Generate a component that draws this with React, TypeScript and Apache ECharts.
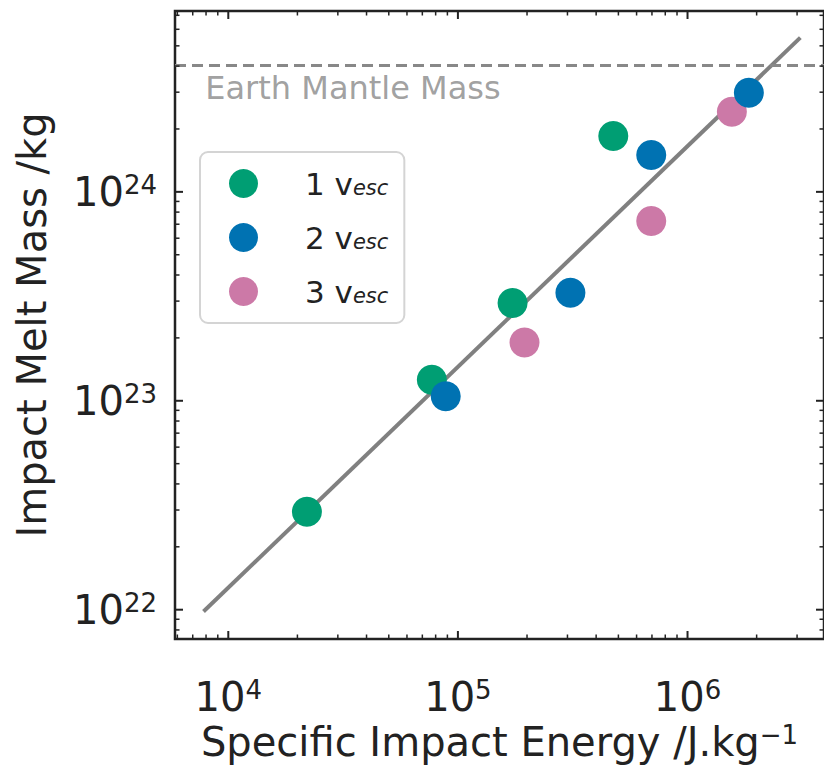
import React, { useEffect, useRef } from "react";
import * as echarts from "echarts";

// ---- data ----
const velocityLabels = ["1", "2", "3"]; // multiples of escape velocity
const seriesColors = ["#009E73", "#0072B2", "#CC79A7"];
const points1vesc: [number, number][] = [
  [2.2e4, 2.94e22],
  [7.7e4, 1.26e23],
  [1.73e5, 2.94e23],
  [4.75e5, 1.85e24],
];
const points2vesc: [number, number][] = [
  [8.85e4, 1.05e23],
  [3.09e5, 3.29e23],
  [6.95e5, 1.5e24],
  [1.85e6, 2.98e24],
];
const points3vesc: [number, number][] = [
  [1.95e5, 1.9e23],
  [6.95e5, 7.26e23],
  [1.56e6, 2.42e24],
];
const fitLine: [number, number][] = [
  [7.8e3, 9.8e21],
  [3.1e6, 5.47e24],
];
const earthMantleMass = 4.05e24;
const annotationPoint: [number, number] = [7.9e3, 3.15e24];
const annotationText = "Earth Mantle Mass";
const xRange = [5860, 3.93e6];
const yRange = [7.24e21, 7.34e24];
const xMajorTicks = [1e4, 1e5, 1e6];
const xMinorTicks = [
  6e3, 7e3, 8e3, 9e3,
  2e4, 3e4, 4e4, 5e4, 6e4, 7e4, 8e4, 9e4,
  2e5, 3e5, 4e5, 5e5, 6e5, 7e5, 8e5, 9e5,
  2e6, 3e6,
];
const yMajorTicks = [1e22, 1e23, 1e24];
const yMinorTicks = [
  8e21, 9e21,
  2e22, 3e22, 4e22, 5e22, 6e22, 7e22, 8e22, 9e22,
  2e23, 3e23, 4e23, 5e23, 6e23, 7e23, 8e23, 9e23,
  2e24, 3e24, 4e24, 5e24, 6e24, 7e24,
];
const xAxisTitle = "Specific Impact Energy /J.kg";
const xAxisTitleSup = "\u22121";
const yAxisTitle = "Impact Melt Mass /kg";

const FONT = "DejaVu Sans";
const INK = "#222222";

const powLabel = (v: number) => {
  const e = Math.log10(v);
  const r = Math.round(e);
  return Math.abs(e - r) < 1e-6 ? `{b|10}{s|${r}}` : "";
};

const supRich = {
  b: { fontSize: 40, lineHeight: 40, fontFamily: FONT, color: INK },
  s: { fontSize: 26, lineHeight: 21, verticalAlign: "top", fontFamily: FONT, color: INK },
};

export default function App() {
  const ref = useRef<HTMLDivElement>(null);

  useEffect(() => {
    if (!ref.current) return;
    const chart = echarts.init(ref.current, undefined, { renderer: "svg" });

    const names = velocityLabels.map((m) => `${m} v_esc`);

    const xTickData = [
      ...xMajorTicks.map((v) => [v, yRange[0], 1]),
      ...xMinorTicks.map((v) => [v, yRange[0], 0]),
    ];
    const yTickData = [
      ...yMajorTicks.map((v) => [xRange[0], v, 1]),
      ...yMinorTicks.map((v) => [xRange[0], v, 0]),
    ];

    const tickStyle = (major: boolean) => ({
      stroke: INK,
      lineWidth: major ? 2 : 1.5,
    });

    const option: any = {
      animation: false,
      backgroundColor: "#ffffff",
      grid: {
        left: 175,
        top: 11,
        right: -1,
        bottom: 130,
        show: true,
        borderColor: INK,
        borderWidth: 2.5,
        backgroundColor: "transparent",
      },
      xAxis: {
        type: "log",
        logBase: 10,
        min: xRange[0],
        max: xRange[1],
        axisLine: { show: false },
        axisTick: { show: false },
        splitLine: { show: false },
        minorTick: { show: false },
        axisLabel: {
          margin: 38,
          showMinLabel: false,
          showMaxLabel: false,
          formatter: powLabel,
          rich: supRich,
        },
        name: `{a|${xAxisTitle}}{s|${xAxisTitleSup}}`,
        nameLocation: "middle",
        nameGap: 78,
        nameTextStyle: {
          rich: {
            a: { fontSize: 40, lineHeight: 40, fontFamily: FONT, color: INK },
            s: { fontSize: 26, lineHeight: 21, verticalAlign: "top", fontFamily: FONT, color: INK },
          },
        },
      },
      yAxis: {
        type: "log",
        logBase: 10,
        min: yRange[0],
        max: yRange[1],
        axisLine: { show: false },
        axisTick: { show: false },
        splitLine: { show: false },
        minorTick: { show: false },
        axisLabel: {
          margin: 18,
          showMinLabel: false,
          showMaxLabel: false,
          formatter: powLabel,
          rich: supRich,
        },
        name: yAxisTitle,
        nameLocation: "middle",
        nameRotate: 90,
        nameGap: 123,
        nameTextStyle: { fontSize: 40, fontFamily: FONT, color: INK },
      },
      legend: {
        data: names,
        orient: "vertical",
        left: 200,
        top: 152,
        padding: [16, 16, 16, 29],
        itemWidth: 29,
        itemHeight: 29,
        itemGap: 23,
        selectedMode: false,
        backgroundColor: "#ffffff",
        borderColor: "#d4d4d4",
        borderWidth: 2,
        borderRadius: 8,
        icon: "circle",
        formatter: (name: string) => `{gap| }{n|${name.split(" ")[0]} v}{sub|esc}`,
        textStyle: {
          rich: {
            gap: { width: 42, fontSize: 31, lineHeight: 29, fontFamily: FONT },
            n: { fontSize: 31, lineHeight: 29, fontFamily: FONT, color: INK },
            sub: {
              fontSize: 21,
              lineHeight: 12,
              verticalAlign: "bottom",
              fontStyle: "italic",
              fontFamily: FONT,
              color: INK,
            },
          },
        },
      },
      series: [
        {
          name: "fit",
          type: "line",
          data: fitLine,
          symbol: "none",
          z: 1,
          silent: true,
          lineStyle: { color: "#808080", width: 4 },
          markLine: {
            silent: true,
            symbol: ["none", "none"],
            label: { show: false },
            lineStyle: { color: "#888888", width: 3, type: [11, 6] },
            data: [{ yAxis: earthMantleMass }],
          },
        },
        {
          name: "annotation",
          type: "scatter",
          data: [annotationPoint],
          symbolSize: 1,
          itemStyle: { color: "rgba(0,0,0,0)" },
          silent: true,
          z: 1,
          label: {
            show: true,
            position: "right",
            distance: 0,
            formatter: annotationText,
            color: "#888888",
            fontSize: 32,
            fontFamily: FONT,
          },
        },
        {
          name: names[0],
          type: "scatter",
          data: points1vesc,
          symbolSize: 30,
          itemStyle: { color: seriesColors[0], opacity: 1 },
          z: 3,
        },
        {
          name: names[2],
          type: "scatter",
          data: points3vesc,
          symbolSize: 30,
          itemStyle: { color: seriesColors[2], opacity: 1 },
          z: 3,
        },
        {
          name: names[1],
          type: "scatter",
          data: points2vesc,
          symbolSize: 30,
          itemStyle: { color: seriesColors[1], opacity: 1 },
          z: 3,
        },
        {
          name: "xticks",
          type: "custom",
          data: xTickData,
          clip: false,
          silent: true,
          z: 10,
          encode: { x: 0, y: 1 },
          renderItem: (params: any, api: any) => {
            const cs = params.coordSys;
            const major = api.value(2) === 1;
            const px = api.coord([api.value(0), yRange[0]])[0];
            const len = major ? 8 : 4.5;
            const bottom = cs.y + cs.height;
            return {
              type: "group",
              children: [
                { type: "line", shape: { x1: px, y1: bottom, x2: px, y2: bottom - len }, style: tickStyle(major) },
                { type: "line", shape: { x1: px, y1: cs.y, x2: px, y2: cs.y + len }, style: tickStyle(major) },
              ],
            };
          },
        },
        {
          name: "yticks",
          type: "custom",
          data: yTickData,
          clip: false,
          silent: true,
          z: 10,
          encode: { x: 0, y: 1 },
          renderItem: (params: any, api: any) => {
            const cs = params.coordSys;
            const major = api.value(2) === 1;
            const py = api.coord([xRange[0], api.value(1)])[1];
            const len = major ? 8 : 4.5;
            const right = cs.x + cs.width;
            return {
              type: "group",
              children: [
                { type: "line", shape: { x1: cs.x, y1: py, x2: cs.x + len, y2: py }, style: tickStyle(major) },
                { type: "line", shape: { x1: right, y1: py, x2: right - len, y2: py }, style: tickStyle(major) },
              ],
            };
          },
        },
      ],
    };

    chart.setOption(option);
    return () => chart.dispose();
  }, []);

  return (
    <div
      ref={ref}
      style={{ position: "fixed", left: 0, top: 0, width: 824, height: 769 }}
    />
  );
}
